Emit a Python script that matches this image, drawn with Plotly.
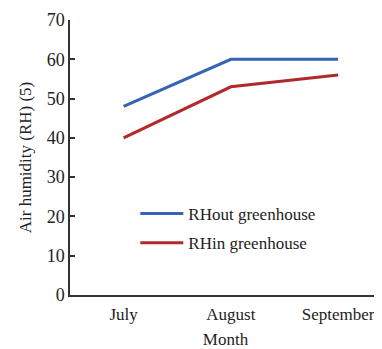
import plotly.graph_objects as go

months = ["July", "August", "September"]
rh_out = [48, 60, 60]
rh_in = [40, 53, 56]
y_ticks = [0, 10, 20, 30, 40, 50, 60, 70]

font_family = "Liberation Serif"

fig = go.Figure()
fig.add_trace(go.Scatter(x=months, y=rh_out, mode="lines", name="RHout greenhouse",
                         legendgroup="a", line=dict(color="#3465b3", width=3)))
fig.add_trace(go.Scatter(x=months, y=rh_in, mode="lines", name="RHin greenhouse",
                         legendgroup="b", line=dict(color="#b3292b", width=3)))

fig.update_layout(
    width=374, height=341,
    margin=dict(l=62, r=1, t=12, b=52),
    paper_bgcolor="white", plot_bgcolor="white",
    font=dict(family=font_family, size=17, color="#222"),
    showlegend=True,
    legend=dict(x=0.21, y=0.36, xanchor="left", yanchor="top",
                bgcolor="rgba(0,0,0,0)", font=dict(size=17, family=font_family),
                tracegroupgap=4, itemwidth=43),
    xaxis=dict(type="category", range=[-0.5, 2.4], showgrid=False,
               showline=True, linecolor="#333", linewidth=1.5,
               ticks="", tickfont=dict(size=17), ticklabelstandoff=3,
               title=dict(text="Month", font=dict(size=17), standoff=12)),
    yaxis=dict(range=[0, 70], tickvals=y_ticks, showgrid=False, zeroline=False,
               showline=True, linecolor="#333", linewidth=1.5,
               ticks="inside", ticklen=5, tickwidth=1.5, tickcolor="#333",
               tickfont=dict(size=18),
               title=dict(text="Air humidity (RH) (5)", font=dict(size=17), standoff=11)),
)

fig.write_html("out.html")
